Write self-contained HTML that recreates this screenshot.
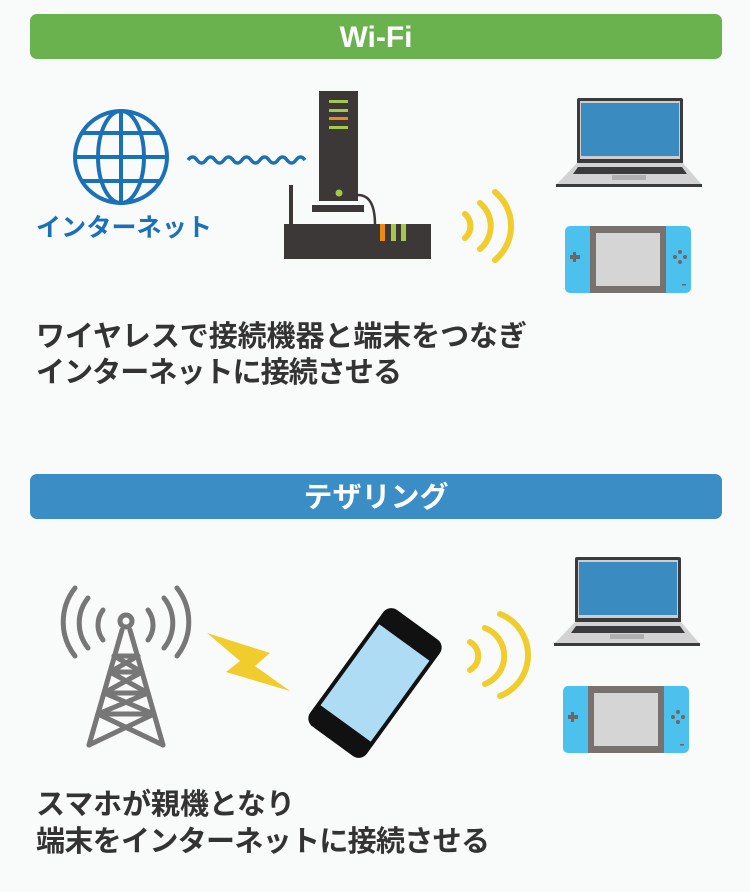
<!DOCTYPE html>
<html><head><meta charset="utf-8"><style>
html,body{margin:0;padding:0;background:#f9fafa;}
svg{display:block}
.t{font-family:"Liberation Sans","Noto Sans CJK JP",sans-serif;font-weight:bold;}
</style></head><body>
<svg width="750" height="892" viewBox="0 0 750 892" xmlns="http://www.w3.org/2000/svg">
<rect width="750" height="892" fill="#f9fafa"/>
<rect x="30" y="14" width="692" height="45" rx="7" fill="#6ab24d"/>
<text x="376" y="47" text-anchor="middle" class="t" font-size="30" fill="#fff">Wi-Fi</text>
<g fill="none" stroke="#1b71b8" stroke-width="4">
<circle cx="121" cy="157" r="46"/>
<ellipse cx="121" cy="157" rx="23" ry="46"/>
<line x1="121" y1="111" x2="121" y2="203"/>
<line x1="75" y1="157" x2="167" y2="157"/>
<line x1="83" y1="133" x2="159" y2="133"/>
<line x1="83" y1="181" x2="159" y2="181"/>
</g>
<text x="36" y="236" class="t" font-size="25" fill="#1b71b8" textLength="176">インターネット</text>
<path d="M188 160 q4.5 -6 9 0 t9 0 t9 0 t9 0 t9 0 t9 0 t9 0 t9 0 t9 0 t9 0 t9 0 t9 0 t9 0" fill="none" stroke="#1b71b8" stroke-width="3.5"/>
<rect x="319" y="91" width="39" height="110" fill="#3c3837"/>
<rect x="312" y="205" width="52" height="7" fill="#3c3837"/>
<rect x="329" y="100" width="19" height="3" fill="#a5c846"/>
<rect x="329" y="109" width="19" height="3" fill="#a5c846"/>
<rect x="329" y="117" width="19" height="3" fill="#ef8a10"/>
<rect x="329" y="126" width="19" height="3" fill="#a5c846"/>
<circle cx="339" cy="193" r="3.5" fill="#a5c846"/>
<path d="M358 195 q17 0 17 30" fill="none" stroke="#3c3837" stroke-width="2.5"/>
<rect x="289" y="185" width="4" height="40" fill="#3c3837"/>
<rect x="284" y="224" width="147" height="35" fill="#3c3837"/>
<rect x="380" y="224" width="5" height="17" fill="#ef8a10"/>
<rect x="391" y="224" width="5" height="17" fill="#a5c846"/>
<rect x="401" y="224" width="5" height="17" fill="#a5c846"/>
<g fill="none" stroke="#f0cd2c" stroke-width="6" stroke-linecap="round">
<path d="M465 214 a16 16 0 0 1 0 24"/>
<path d="M480 203 a30 30 0 0 1 0 46"/>
<path d="M495 192 a44 44 0 0 1 0 68"/>
</g>
<g>
<rect x="577" y="98" width="106" height="66" rx="2" fill="#3b3b3d"/>
<rect x="580" y="101" width="100" height="58" fill="#cdcdcd"/>
<rect x="581" y="103" width="98" height="53" fill="#3a8bc0"/>
<path d="M577 163 h106 l19 22 h-146z" fill="#d3d3d3"/>
<path d="M578 167 h104 l5 7 h-114z" fill="#3b3b3d"/>
<rect x="612" y="175" width="34" height="5" fill="#b0b0b0"/>
<rect x="556" y="184" width="146" height="3" fill="#3b3b3d"/>
</g>
<g>
<rect x="565" y="226" width="126" height="67" rx="5" fill="#4dc1ee"/>
<rect x="590" y="226" width="76" height="67" fill="#777270"/>
<rect x="596" y="233" width="64" height="53" fill="#d5d5d5"/>
<rect x="573" y="252" width="3" height="10" fill="#6d6866"/>
<rect x="570" y="255" width="10" height="4" fill="#6d6866"/>
<circle cx="680" cy="252" r="2" fill="#6d6866"/><circle cx="680" cy="262" r="2" fill="#6d6866"/>
<circle cx="675" cy="257" r="2" fill="#6d6866"/><circle cx="685" cy="257" r="2" fill="#6d6866"/>
<rect x="682" y="284" width="4" height="1.5" fill="#6d6866"/>
</g>
<text class="t" font-size="29" fill="#333">
<tspan x="36" y="346" textLength="491">ワイヤレスで接続機器と端末をつなぎ</tspan>
<tspan x="36" y="382" textLength="366">インターネットに接続させる</tspan>
</text>
<rect x="30" y="474" width="692" height="45" rx="7" fill="#3b8ec5"/>
<text x="376" y="507" text-anchor="middle" class="t" font-size="29" fill="#fff">テザリング</text>
<g fill="none" stroke="#777" stroke-width="5" stroke-linecap="round">
<circle cx="126" cy="621" r="6"/>
<path d="M103 610 a25 25 0 0 0 0 30"/><path d="M148 610 a25 25 0 0 1 0 30"/>
<path d="M88 598 a40 40 0 0 0 0 50"/><path d="M164 598 a40 40 0 0 1 0 50"/>
<path d="M75 588 a55 55 0 0 0 0 68"/><path d="M177 588 a55 55 0 0 1 0 68"/>
<path d="M122 630 L89 745 M130 630 L163 745"/>
<path d="M114 656 h24 M110 672 h32 M104 693 h44 M98 714 h56"/>
<path d="M114 656 L142 672 M138 656 L110 672 M110 672 L148 693 M142 672 L104 693 M104 693 L154 714 M148 693 L98 714 M98 714 L163 745 M154 714 L89 745"/>
</g>
<path d="M207 633 L270 653 L255 666 L290 691 L226 672 L240 661 Z" fill="#f0cd2c"/>
<g transform="translate(375 683) rotate(36)">
<rect x="-35" y="-72" width="70" height="144" rx="10" fill="#111"/>
<rect x="-31" y="-50" width="62" height="100" fill="#aedcf4"/>
</g>
<g fill="none" stroke="#f0cd2c" stroke-width="6" stroke-linecap="round">
<path d="M470 642 a16 16 0 0 1 0 28"/>
<path d="M485 628 a30 30 0 0 1 0 56"/>
<path d="M500 614 a44 44 0 0 1 0 82"/>
</g>
<g>
<rect x="575" y="557" width="106" height="66" rx="2" fill="#3b3b3d"/>
<rect x="578" y="560" width="100" height="58" fill="#cdcdcd"/>
<rect x="579" y="562" width="98" height="53" fill="#3a8bc0"/>
<path d="M575 622 h106 l19 22 h-146z" fill="#d3d3d3"/>
<path d="M576 626 h104 l5 7 h-114z" fill="#3b3b3d"/>
<rect x="610" y="634" width="34" height="5" fill="#b0b0b0"/>
<rect x="554" y="643" width="146" height="3" fill="#3b3b3d"/>
</g>
<g>
<rect x="563" y="686" width="126" height="67" rx="5" fill="#4dc1ee"/>
<rect x="588" y="686" width="76" height="67" fill="#777270"/>
<rect x="594" y="693" width="64" height="53" fill="#d5d5d5"/>
<rect x="571" y="712" width="3" height="10" fill="#6d6866"/>
<rect x="568" y="715" width="10" height="4" fill="#6d6866"/>
<circle cx="678" cy="712" r="2" fill="#6d6866"/><circle cx="678" cy="722" r="2" fill="#6d6866"/>
<circle cx="673" cy="717" r="2" fill="#6d6866"/><circle cx="683" cy="717" r="2" fill="#6d6866"/>
<rect x="680" y="744" width="4" height="1.5" fill="#6d6866"/>
</g>
<text class="t" font-size="29" fill="#333">
<tspan x="36" y="814" textLength="259">スマホが親機となり</tspan>
<tspan x="36" y="851" textLength="454">端末をインターネットに接続させる</tspan>
</text>
</svg>
</body></html>
